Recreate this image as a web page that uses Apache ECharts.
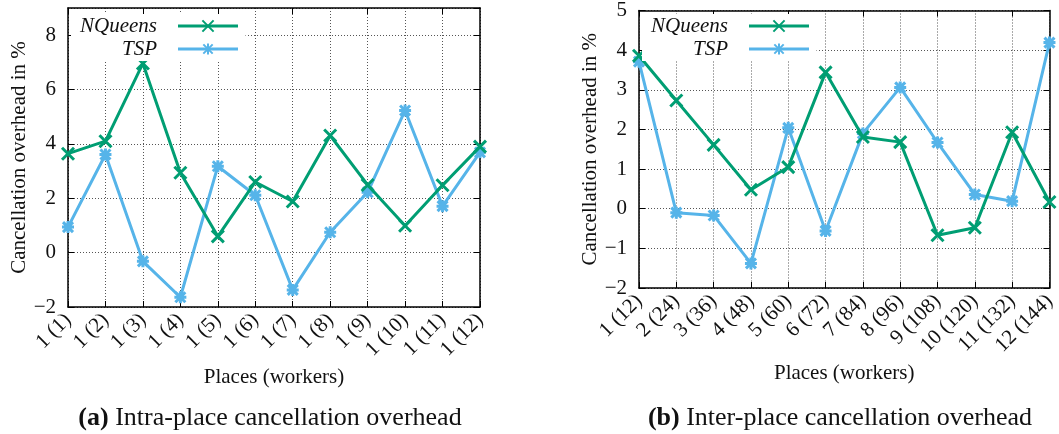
<!DOCTYPE html>
<html>
<head>
<meta charset="utf-8">
<script src="https://cdn.jsdelivr.net/npm/echarts@6/dist/echarts.min.js"></script>
<style>
  html, body { margin: 0; padding: 0; background: #fff; }
  #main { width: 1059px; height: 434px; }
</style>
</head>
<body>
<div id="main"></div>
<script>
// values
var intraPlaces = ['1 (1)', '1 (2)', '1 (3)', '1 (4)', '1 (5)', '1 (6)', '1 (7)', '1 (8)', '1 (9)', '1 (10)', '1 (11)', '1 (12)'];
var intraNQueens = [3.64, 4.10, 6.96, 2.94, 0.60, 2.60, 1.88, 4.31, 2.49, 0.99, 2.48, 3.90];
var intraTSP = [0.94, 3.61, -0.32, -1.64, 3.18, 2.11, -1.37, 0.75, 2.22, 5.23, 1.71, 3.69];

var interPlaces = ['1 (12)', '2 (24)', '3 (36)', '4 (48)', '5 (60)', '6 (72)', '7 (84)', '8 (96)', '9 (108)', '10 (120)', '11 (132)', '12 (144)'];
var interNQueens = [3.86, 2.73, 1.61, 0.48, 1.05, 3.44, 1.81, 1.68, -0.67, -0.48, 1.93, 0.17];
var interTSP = [3.71, -0.10, -0.17, -1.38, 2.04, -0.56, 1.90, 3.06, 1.67, 0.36, 0.19, 4.19];

var FONT = '"Liberation Serif", "DejaVu Serif", serif';
var GREEN = '#009e73';
var BLUE = '#56b4e9';
var crossSym = 'path://M0,0L10,10M10,0L0,10';
var starSym = 'path://M0,0L10,10M10,0L0,10M5,-1L5,11M-1,5L11,5';
var gridLine = { color: '#555', type: [1, 2], width: 1 };

function lineSeries(name, data, color, sym, xi, yi) {
  return {
    name: name,
    type: 'line',
    xAxisIndex: xi,
    yAxisIndex: yi,
    data: data,
    symbol: sym,
    symbolSize: 12,
    showSymbol: true,
    lineStyle: { color: color, width: 3 },
    itemStyle: { color: color, borderColor: color, borderWidth: 3 },
    emphasis: { disabled: true },
    z: name === 'TSP' ? 2 : 3
  };
}

function xMain(grid, cats) {
  return {
    type: 'category', gridIndex: grid, data: cats, boundaryGap: false,
    name: 'Places (workers)', nameLocation: 'middle',
    nameGap: grid === 0 ? 50 : 68,
    nameTextStyle: { fontFamily: FONT, fontSize: 21, color: '#111' },
    axisLine: { onZero: false, lineStyle: { color: '#000', width: 1.5 } },
    axisTick: { inside: true, length: 6, alignWithLabel: true, lineStyle: { color: '#000' } },
    axisLabel: { rotate: 45, margin: 10, fontFamily: FONT, fontSize: 21, color: '#111', interval: 0 },
    splitLine: { show: true, lineStyle: gridLine }
  };
}
function xMirror(grid, cats) {
  return {
    type: 'category', gridIndex: grid, data: cats, boundaryGap: false, position: 'top',
    axisLine: { onZero: false, lineStyle: { color: '#000', width: 1.5 } },
    axisTick: { inside: true, length: 6, lineStyle: { color: '#000' } },
    axisLabel: { show: false }, splitLine: { show: false }
  };
}
function yMain(grid, min, max, step) {
  return {
    type: 'value', gridIndex: grid, min: min, max: max, interval: step,
    name: 'Cancellation overhead in %', nameLocation: 'middle', nameGap: 38,
    nameTextStyle: { fontFamily: FONT, fontSize: 21, color: '#111' },
    axisLine: { show: true, onZero: false, lineStyle: { color: '#000', width: 1.5 } },
    axisTick: { show: true, inside: true, length: 6, lineStyle: { color: '#000' } },
    axisLabel: {
      fontFamily: FONT, fontSize: 21, color: '#111', margin: 12,
      showMaxLabel: max % step === 0,
      formatter: function (v) { return v < 0 ? '\u2212' + (-v) : String(v); }
    },
    splitLine: { show: true, lineStyle: gridLine }
  };
}
function yMirror(grid, min, max, step) {
  return {
    type: 'value', gridIndex: grid, min: min, max: max, interval: step, position: 'right',
    axisLine: { show: true, onZero: false, lineStyle: { color: '#000', width: 1.5 } },
    axisTick: { show: true, inside: true, length: 6, lineStyle: { color: '#000' } },
    axisLabel: { show: false }, splitLine: { show: false }
  };
}
function legendAt(left) {
  return {
    orient: 'vertical', align: 'right', left: left, top: 14, padding: [1, 6, 1, 0], itemGap: 1,
    backgroundColor: '#fff',
    itemWidth: 60, itemHeight: 14, selectedMode: false,
    data: ['NQueens', 'TSP'],
    lineStyle: { width: 3 },
    textStyle: {
      fontFamily: FONT, fontSize: 21, fontStyle: 'italic', color: '#111',
      width: 86, lineHeight: 22, align: 'right', padding: [0, 16, 0, 0]
    }
  };
}
function caption(text, x) {
  return {
    text: text, left: x, top: 400, textAlign: 'center',
    textStyle: { fontFamily: FONT, fontSize: 26, fontWeight: 'normal', color: '#111',
      rich: { b: { fontFamily: FONT, fontSize: 26, fontWeight: 'bold', color: '#111' } } }
  };
}

var chart = echarts.init(document.getElementById('main'));
chart.setOption({
  backgroundColor: '#fff',
  animation: false,
  grid: [
    { left: 68, top: 8, width: 412, height: 299 },
    { left: 639, top: 8, width: 412, height: 280 }
  ],
  title: [
    caption('{b|(a)} Intra-place cancellation overhead', 265),
    caption('{b|(b)} Inter-place cancellation overhead', 835)
  ],
  legend: [legendAt(71), legendAt(642)],
  xAxis: [xMain(0, intraPlaces), xMirror(0, intraPlaces), xMain(1, interPlaces), xMirror(1, interPlaces)],
  yAxis: [yMain(0, -2, 9, 2), yMirror(0, -2, 9, 2), yMain(1, -2, 5, 1), yMirror(1, -2, 5, 1)],
  series: [
    lineSeries('NQueens', intraNQueens, GREEN, crossSym, 0, 0),
    lineSeries('TSP', intraTSP, BLUE, starSym, 0, 0),
    lineSeries('NQueens', interNQueens, GREEN, crossSym, 2, 2),
    lineSeries('TSP', interTSP, BLUE, starSym, 2, 2)
  ]
});
</script>
</body>
</html>
